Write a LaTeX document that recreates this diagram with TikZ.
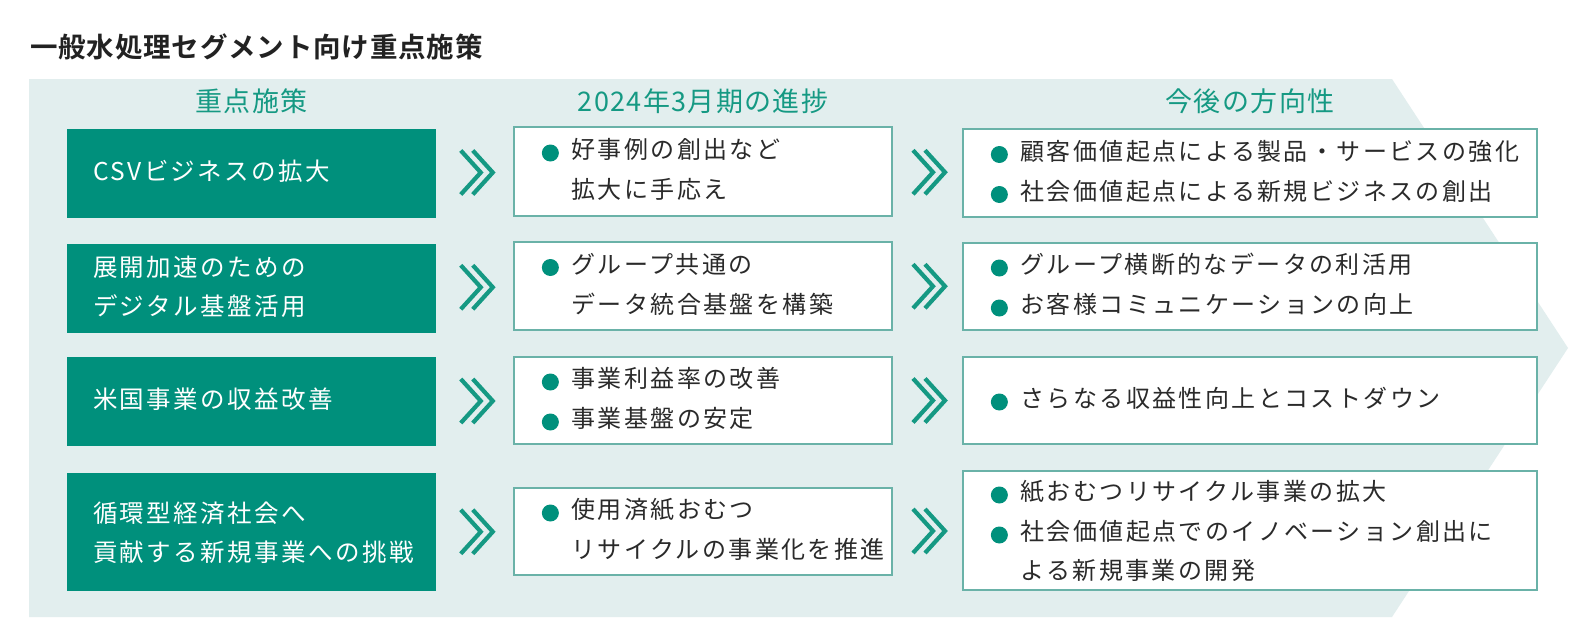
\documentclass[tikz,border=0pt]{standalone}
\usepackage{fontspec}
\setmainfont{Noto Sans CJK JP}
\newfontfamily\jpt[LetterSpace=10]{Noto Sans CJK JP}
\newfontfamily\jph[LetterSpace=5]{Noto Sans CJK JP}
\newfontfamily\jptitle[LetterSpace=3]{Noto Sans CJK JP Bold}
\usetikzlibrary{calc}
\definecolor{bgc}{HTML}{E2EEEE}
\definecolor{tealA}{HTML}{00907C}
\definecolor{tealB}{HTML}{159983}
\definecolor{bord}{HTML}{6AB2A8}
\definecolor{txtc}{HTML}{2A2A2A}
\definecolor{titc}{HTML}{222222}
\begin{document}
\begin{tikzpicture}[x=1pt,y=-1pt,
  gbox/.style={fill=tealA, draw=none, minimum width=369pt, inner sep=0},
  mbox/.style={fill=white, draw=bord, line width=1.3pt, minimum width=378pt, inner sep=0},
  rbox/.style={fill=white, draw=bord, line width=1.3pt, minimum width=574pt, inner sep=0},
  wtxt/.style={anchor=west, inner sep=0, yshift=-3.5pt, text=white, text height=0.88em, text depth=0.12em, font=\jpt\fontsize{24.5}{28}\selectfont},
  btxt/.style={anchor=west, inner sep=0, yshift=-3.5pt, text=txtc, text height=0.88em, text depth=0.12em, font=\jpt\fontsize{24}{28}\selectfont},
  bdot/.style={circle, fill=tealA, minimum size=17pt, inner sep=0, yshift=-1.5pt},
  head/.style={text=tealB, inner sep=0, font=\jph\fontsize{27}{30}\selectfont},
  chev/.style={draw=tealB, line width=4.2pt, line join=miter}
]
\useasboundingbox (0,0) rectangle (1592,637);
\fill[white] (0,0) rectangle (1592,637);
% background arrow
\fill[bgc] (29,79) -- (1392,79) -- (1568,348) -- (1392,617) -- (29,617) -- cycle;
% title
\node[anchor=west, inner sep=0, text=titc, font=\jptitle\fontsize{27.5}{32}\selectfont] (title) at (30,47) {一般水処理セグメント向け重点施策};
% headers
\node[head] (h1) at (251.5,101) {重点施策};
\node[head] (h2) at (703,101) {2024年3月期の進捗};
\node[head] (h3) at (1250,101) {今後の方向性};
% green boxes
\node[gbox, minimum height=89pt] (g1) at (251.5,173.5) {};
\node[gbox, minimum height=89pt] (g2) at (251.5,288.5) {};
\node[gbox, minimum height=89pt] (g3) at (251.5,401.5) {};
\node[gbox, minimum height=118pt] (g4) at (251.5,532) {};
% middle boxes
\node[mbox, minimum height=89pt] (m1) at (703,171.5) {};
\node[mbox, minimum height=88pt] (m2) at (703,286) {};
\node[mbox, minimum height=87pt] (m3) at (703,400.5) {};
\node[mbox, minimum height=87pt] (m4) at (703,531.5) {};
% right boxes
\node[rbox, minimum height=88pt] (r1) at (1250,173) {};
\node[rbox, minimum height=87pt] (r2) at (1250,286.5) {};
\node[rbox, minimum height=87pt] (r3) at (1250,400.5) {};
\node[rbox, minimum height=119pt] (r4) at (1250,530.5) {};
% green texts
\node[wtxt] (g1a) at ($(g1.west)+(26,0)$) {CSVビジネスの拡大};
\node[wtxt] (g2a) at ($(g2.west)+(26,-19)$) {展開加速のための};
\node[wtxt] (g2b) at ($(g2.west)+(26,20)$) {デジタル基盤活用};
\node[wtxt] (g3a) at ($(g3.west)+(26,0)$) {米国事業の収益改善};
\node[wtxt] (g4a) at ($(g4.west)+(26,-17)$) {循環型経済社会へ};
\node[wtxt] (g4b) at ($(g4.west)+(26,22)$) {貢献する新規事業への挑戦};
% middle texts
\node[bdot] (m1d) at ($(m1.west)+(37,-20)$) {};
\node[btxt] (m1a) at ($(m1.west)+(58,-20)$) {好事例の創出など};
\node[btxt] (m1b) at ($(m1.west)+(58,20)$) {拡大に手応え};
\node[bdot] (m2d) at ($(m2.west)+(37,-20)$) {};
\node[btxt] (m2a) at ($(m2.west)+(58,-20)$) {グループ共通の};
\node[btxt] (m2b) at ($(m2.west)+(58,20)$) {データ統合基盤を構築};
\node[bdot] (m3d) at ($(m3.west)+(37,-20)$) {};
\node[btxt] (m3a) at ($(m3.west)+(58,-20)$) {事業利益率の改善};
\node[bdot] (m3e) at ($(m3.west)+(37,20)$) {};
\node[btxt] (m3b) at ($(m3.west)+(58,20)$) {事業基盤の安定};
\node[bdot] (m4d) at ($(m4.west)+(37,-20)$) {};
\node[btxt] (m4a) at ($(m4.west)+(58,-20)$) {使用済紙おむつ};
\node[btxt] (m4b) at ($(m4.west)+(58,20)$) {リサイクルの事業化を推進};
% right texts
\node[bdot] (r1d) at ($(r1.west)+(37,-20)$) {};
\node[btxt] (r1a) at ($(r1.west)+(58,-20)$) {顧客価値起点による製品・サービスの強化};
\node[bdot] (r1e) at ($(r1.west)+(37,20)$) {};
\node[btxt] (r1b) at ($(r1.west)+(58,20)$) {社会価値起点による新規ビジネスの創出};
\node[bdot] (r2d) at ($(r2.west)+(37,-20)$) {};
\node[btxt] (r2a) at ($(r2.west)+(58,-20)$) {グループ横断的なデータの利活用};
\node[bdot] (r2e) at ($(r2.west)+(37,20)$) {};
\node[btxt] (r2b) at ($(r2.west)+(58,20)$) {お客様コミュニケーションの向上};
\node[bdot] (r3d) at ($(r3.west)+(37,0)$) {};
\node[btxt] (r3a) at ($(r3.west)+(58,0)$) {さらなる収益性向上とコストダウン};
\node[bdot] (r4d) at ($(r4.west)+(37,-37)$) {};
\node[btxt] (r4a) at ($(r4.west)+(58,-37)$) {紙おむつリサイクル事業の拡大};
\node[bdot] (r4e) at ($(r4.west)+(37,3)$) {};
\node[btxt] (r4b) at ($(r4.west)+(58,3)$) {社会価値起点でのイノベーション創出に};
\node[btxt] (r4c) at ($(r4.west)+(58,42)$) {よる新規事業の開発};
% chevrons
\foreach \i in {1,2,3,4}{
  \coordinate (ca\i) at ($(g\i.east)!0.5!(m\i.west)+(2,0)$);
  \coordinate (cb\i) at ($(m\i.east)!0.5!(r\i.west)+(1.5,0)$);
  \foreach \c in {ca\i,cb\i}{
    \draw[chev] ([shift={(-16,-22)}]\c) -- ([shift={(4,0)}]\c) -- ([shift={(-16,22)}]\c);
    \draw[chev] ([shift={(-4,-22)}]\c) -- ([shift={(16,0)}]\c) -- ([shift={(-4,22)}]\c);
  }
}
\end{tikzpicture}
\end{document}
